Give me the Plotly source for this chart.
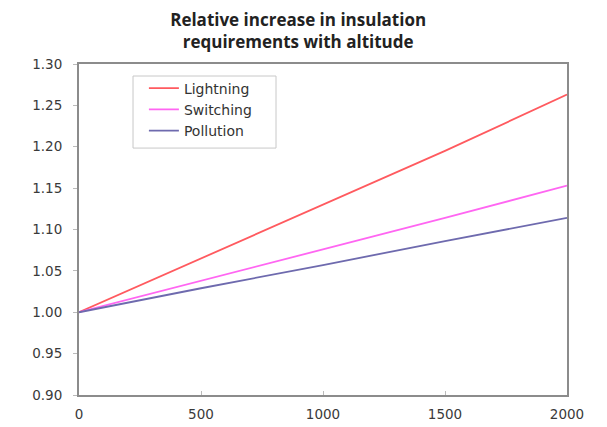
import plotly.graph_objects as go

altitude = [0, 500, 1000, 1500, 2000]
lightning = [1.000, 1.065, 1.130, 1.195, 1.263]
switching = [1.000, 1.038, 1.076, 1.114, 1.153]
pollution = [1.000, 1.029, 1.057, 1.086, 1.114]
series_names = ["Lightning", "Switching", "Pollution"]
colors = ["#FF5A5F", "#FF66F2", "#6E6AAE"]
x_ticks = [0, 500, 1000, 1500, 2000]
y_ticks = [0.90, 0.95, 1.00, 1.05, 1.10, 1.15, 1.20, 1.25, 1.30]

fig = go.Figure()
for name, vals, c in zip(series_names, [lightning, switching, pollution], colors):
    fig.add_trace(go.Scatter(x=altitude, y=vals, mode="lines", name=name,
                             line=dict(color=c, width=1.8)))

axis_common = dict(showline=True, linecolor="#8c8c8c", linewidth=2, mirror=True,
                   showgrid=False, zeroline=False,
                   tickfont=dict(family="DejaVu Sans", size=13.5, color="#3a3a3a"),
                   ticklen=4, tickcolor="#bbb")

fig.update_layout(
    width=607, height=427,
    margin=dict(l=71, r=48, t=56, b=40),
    paper_bgcolor="white", plot_bgcolor="white",
    title=dict(text="<b>Relative increase in insulation<br>requirements with altitude</b>",
               x=0.478, xanchor="center", y=0.958, yanchor="top",
               font=dict(family="Open Sans", size=17, color="#222")),
    xaxis=dict(range=[0, 2000], tickvals=x_ticks, ticktext=[str(v) for v in x_ticks],
               ticks="inside", ticklabelstandoff=6, **axis_common),
    yaxis=dict(range=[0.90, 1.30], tickvals=y_ticks, ticktext=[f"{v:.2f}" for v in y_ticks],
               ticks="outside", ticklabelstandoff=8, **axis_common),
    showlegend=True,
    legend=dict(x=0.133, y=0.974, xanchor="left", yanchor="top",
                borderwidth=0, bgcolor="rgba(0,0,0,0)",
                font=dict(family="DejaVu Sans", size=14, color="#333"),
                tracegroupgap=0, itemwidth=30),
    shapes=[dict(type="rect", xref="paper", yref="paper",
                 x0=0.1107, x1=0.4037, y0=0.746, y1=0.9637,
                 line=dict(color="#c8c8c8", width=1), fillcolor="rgba(0,0,0,0)",
                 layer="below")],
)

fig.write_html("out.html")
